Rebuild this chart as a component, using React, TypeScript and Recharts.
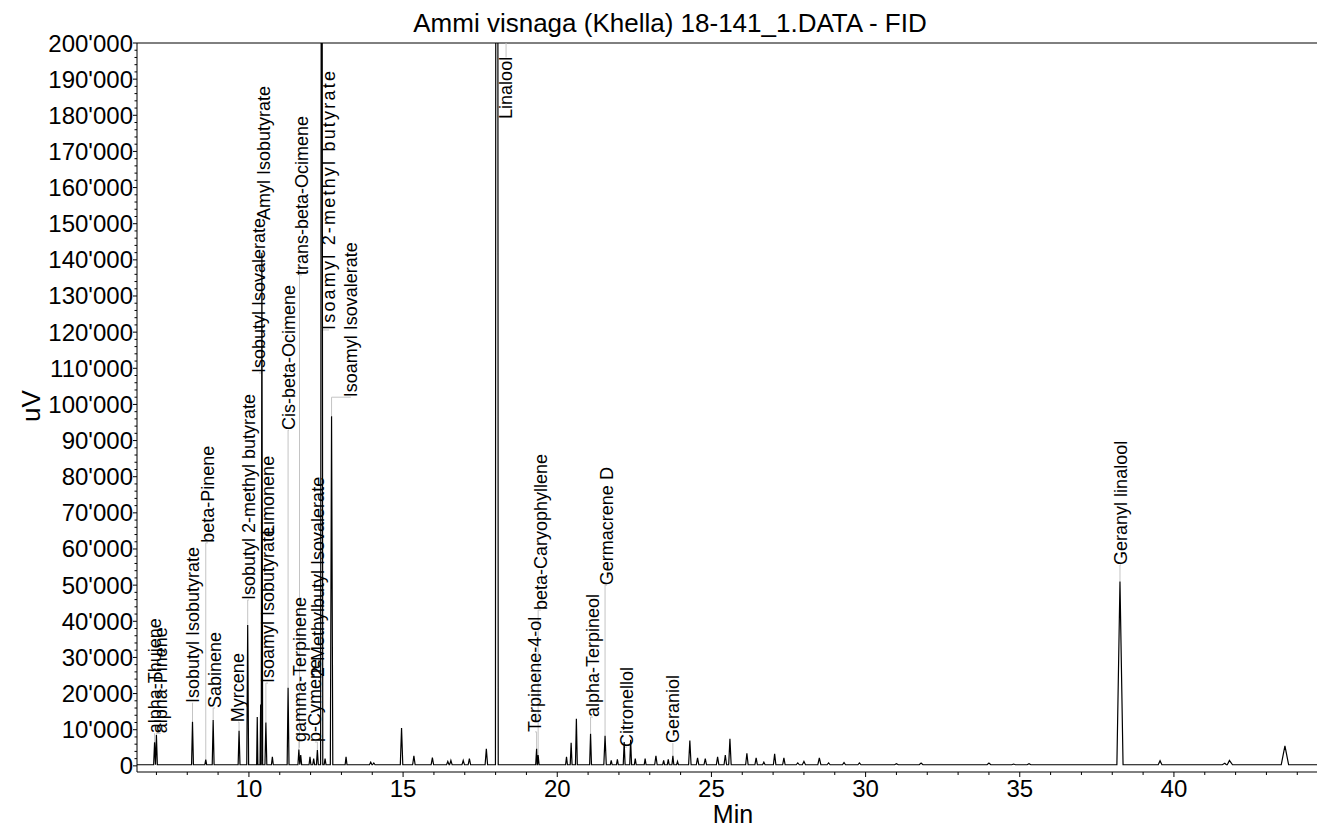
import React from 'react';
import { ComposedChart, Line, Scatter, XAxis, YAxis, ReferenceLine } from 'recharts';

const FONT = 'Arial, "Liberation Sans", Helvetica, sans-serif';
const W = 1317;
const H = 830;

const X_DOMAIN: [number, number] = [6.37, 44.64];
const Y_DOMAIN: [number, number] = [-1700, 200000];
const BASELINE = 300;

// peaks: retention time (min), height (uV), half width (min)
const peakTimes = [
  6.94, 7.0, 8.17, 8.6, 8.84, 9.68, 9.96, 10.27, 10.38, 10.42, 10.55, 10.76,
  11.27, 11.62, 11.68, 11.98, 12.1, 12.22, 12.36, 12.47, 12.68, 13.15, 13.95, 14.05,
  14.95, 15.35, 15.95, 16.45, 16.55, 16.95, 17.15, 17.7, 18.04, 19.33, 19.38, 20.3,
  20.45, 20.62, 21.08, 21.55, 21.75, 21.95, 22.17, 22.38, 22.53, 22.85, 23.2, 23.45,
  23.6, 23.75, 23.9, 24.3, 24.55, 24.8, 25.2, 25.45, 25.6, 26.15, 26.45, 26.7,
  27.05, 27.35, 27.8, 28.0, 28.5, 28.8, 29.3, 29.8, 31.0, 31.8, 34.0, 34.8,
  35.3, 38.25, 39.55, 41.65, 41.8, 43.6,
];
const peakHeights = [
  6500, 8500, 12200, 1700, 12700, 9700, 39000, 13500, 17000, 142000, 12000, 2500,
  21600, 4500, 3000, 2500, 2000, 4400, 400000, 2000, 96700, 2500, 1000, 800,
  10500, 2800, 2300, 1200, 1500, 1500, 2000, 4700, 900000, 4700, 3000, 2500,
  6400, 13000, 8900, 8300, 1500, 1800, 6600, 7200, 2000, 2000, 2800, 1500,
  1800, 2800, 1200, 7000, 2200, 2000, 2500, 3000, 7500, 3500, 2200, 1000,
  3300, 2200, 800, 1200, 2200, 800, 900, 800, 600, 800, 800, 500,
  600, 51000, 1400, 700, 1500, 5500,
];
const peakWidths = [
  0.03, 0.03, 0.03, 0.03, 0.03, 0.03, 0.03, 0.02, 0.02, 0.025, 0.03, 0.03,
  0.03, 0.03, 0.03, 0.03, 0.03, 0.03, 0.035, 0.03, 0.04, 0.03, 0.04, 0.04,
  0.04, 0.04, 0.04, 0.04, 0.04, 0.04, 0.04, 0.04, 0.045, 0.03, 0.03, 0.03,
  0.03, 0.03, 0.03, 0.04, 0.03, 0.03, 0.03, 0.03, 0.03, 0.03, 0.04, 0.03,
  0.03, 0.03, 0.03, 0.04, 0.04, 0.04, 0.04, 0.04, 0.04, 0.04, 0.04, 0.04,
  0.04, 0.04, 0.05, 0.05, 0.05, 0.05, 0.05, 0.05, 0.06, 0.06, 0.06, 0.06,
  0.06, 0.1, 0.06, 0.08, 0.1, 0.12,
];

// peak annotations: name, leader foot (min, uV), text position (min, uV at text start)
const labelNames = [
  'alpha-Thujene', 'alpha-Pinene', 'Isobutyl Isobutyrate', 'beta-Pinene', 'Sabinene', 'Myrcene',
  'Isobutyl 2-methyl butyrate', 'Isobutyl Isovalerate', 'Amyl Isobutyrate', 'Isoamyl Isobutyrate',
  'Limonene', 'Cis-beta-Ocimene', 'trans-beta-Ocimene', 'gamma-Terpinene', 'p-Cymene',
  '2-Methylbutyl Isovalerate', 'Isoamyl 2-methyl butyrate', 'Isoamyl Isovalerate', 'Linalool',
  'Terpinene-4-ol', 'beta-Caryophyllene', 'alpha-Terpineol', 'Germacrene D', 'Citronellol',
  'Geraniol', 'Geranyl linalool',
];
const labelPeakT = [
  6.94, 7.0, 8.17, 8.6, 8.84, 9.68, 9.96, 10.42, 10.42, 10.55, 10.42, 11.27, 11.64,
  11.62, 12.22, 12.36, 12.36, 12.68, 18.34, 19.33, 19.38, 21.08, 21.55, 22.17, 23.75, 38.25,
];
const labelApex = [
  6500, 8500, 12200, 1700, 12700, 9700, 39000, 108700, 151000, 12000, 63900, 21600, 5000,
  4500, 4400, 24600, 120600, 96700, 200000, 4700, 3000, 8900, 8300, 5200, 2800, 51000,
];
const labelT = [
  6.95, 7.14, 8.19, 8.67, 8.9, 9.65, 10.0, 10.33, 10.49, 10.62, 10.62, 11.3, 11.72,
  11.66, 12.14, 12.24, 12.6, 13.31, 18.34, 19.28, 19.47, 21.16, 21.61, 22.26, 23.75, 38.28,
];
const labelV = [
  9000, 9000, 17400, 61700, 16000, 12100, 45900, 108700, 151000, 22900, 63900, 92900, 135800,
  6600, 6600, 24600, 120600, 102000, 179000, 9400, 43100, 13500, 50000, 5200, 6300, 55600,
];

const yTicks = Array.from({ length: 101 }, (_, i) => i * 2000);
const xTicks = Array.from({ length: 38 }, (_, i) => 7 + i);

const trace: { t: number; v: number }[] = [
  { t: X_DOMAIN[0], v: BASELINE },
  { t: X_DOMAIN[1], v: BASELINE },
];
peakTimes.forEach((t, i) => {
  const w = peakWidths[i];
  trace.push({ t: t - w, v: BASELINE }, { t, v: peakHeights[i] }, { t: t + w, v: BASELINE });
});
trace.sort((a, b) => a.t - b.t);

const labels = labelNames.map((name, i) => ({ t: labelT[i], v: labelV[i], name }));

const fmtY = (v: number) => (v === 0 ? '0' : `${v / 1000}'000`);

const YTick = (props: any) => {
  const { x, y, payload } = props;
  const v = payload.value;
  const major = v % 10000 === 0;
  return (
    <g>
      <line x1={x} x2={x - (major ? 4 : 2.5)} y1={y} y2={y} stroke="#000" strokeWidth={1} />
      {major && (
        <text x={x - 4} y={y} textAnchor="end" dominantBaseline="central" fontSize={24} fontFamily={FONT} fill="#000">
          {fmtY(v)}
        </text>
      )}
    </g>
  );
};

const XTick = (props: any) => {
  const { x, y, payload } = props;
  const v = payload.value;
  const major = v % 5 === 0;
  return (
    <g>
      <line x1={x} x2={x} y1={y} y2={y + (major ? 5 : 3)} stroke="#000" strokeWidth={1} />
      {major && (
        <text x={x} y={y + 25} textAnchor="middle" fontSize={24} fontFamily={FONT} fill="#000">
          {v}
        </text>
      )}
    </g>
  );
};

const PeakLabel = (props: any) => {
  const { cx, cy, payload } = props;
  // this one label is drawn more widely spaced in the original
  const spacing = payload.name === 'Isoamyl 2-methyl butyrate' ? 2.2 : 0;
  return (
    <text
      x={cx}
      y={cy}
      transform={`rotate(-90 ${cx} ${cy})`}
      textAnchor="start"
      dominantBaseline="central"
      fontSize={18}
      letterSpacing={spacing}
      fontFamily={FONT}
      fill="#000"
    >
      {payload.name}
    </text>
  );
};

export default function App() {
  return (
    <div style={{ position: 'absolute', left: 0, top: 0, width: W, height: H, background: '#fff' }}>
      <ComposedChart width={W} height={H} margin={{ top: 43, right: 0, bottom: 0, left: 0 }}>
        <XAxis
          dataKey="t"
          type="number"
          domain={X_DOMAIN}
          allowDataOverflow
          ticks={xTicks}
          interval={0}
          tickSize={0}
          tickMargin={0}
          tick={<XTick />}
          height={58}
          axisLine={{ stroke: '#000' }}
        />
        <YAxis
          type="number"
          domain={Y_DOMAIN}
          allowDataOverflow
          ticks={yTicks}
          interval={0}
          tickSize={0}
          tickMargin={0}
          tick={<YTick />}
          width={137}
          axisLine={{ stroke: '#000' }}
        />
        <ReferenceLine y={200000} stroke="#000" strokeWidth={1} />
        <Scatter data={labels} dataKey="v" shape={<PeakLabel />} isAnimationActive={false} />
        {labelNames.map((name, i) => {
          const segs: JSX.Element[] = [];
          if (name === 'Linalool') {
            // off-scale peak: short leader hangs from the frame down to the text top
            segs.push(
              <ReferenceLine
                key={`v-${name}`}
                segment={[{ x: labelT[i], y: 200000 }, { x: labelT[i], y: 196000 }]}
                stroke="#c4c4c4"
                strokeWidth={1}
              />
            );
            return segs;
          }
          if (labelV[i] !== labelApex[i]) {
            segs.push(
              <ReferenceLine
                key={`v-${name}`}
                segment={[{ x: labelPeakT[i], y: labelApex[i] }, { x: labelPeakT[i], y: labelV[i] }]}
                stroke="#c4c4c4"
                strokeWidth={1}
              />
            );
          }
          if (Math.abs(labelT[i] - labelPeakT[i]) > 0.01) {
            segs.push(
              <ReferenceLine
                key={`h-${name}`}
                segment={[{ x: labelPeakT[i], y: labelV[i] }, { x: labelT[i], y: labelV[i] }]}
                stroke="#c4c4c4"
                strokeWidth={1}
              />
            );
          }
          return segs;
        })}
        <Line
          data={trace}
          dataKey="v"
          type="linear"
          stroke="#000"
          strokeWidth={1.2}
          dot={false}
          isAnimationActive={false}
        />
      </ComposedChart>
      <svg width={W} height={H} style={{ position: 'absolute', left: 0, top: 0, pointerEvents: 'none' }}>
        <text x={670} y={32} textAnchor="middle" fontSize={26} fontFamily={FONT} fill="#000">
          Ammi visnaga (Khella) 18-141_1.DATA - FID
        </text>
        <text x={40} y={406} textAnchor="middle" transform="rotate(-90 40 406)" fontSize={26} fontFamily={FONT} fill="#000">
          uV
        </text>
        <text x={733} y={823} textAnchor="middle" fontSize={25} fontFamily={FONT} fill="#000">
          Min
        </text>
      </svg>
    </div>
  );
}
